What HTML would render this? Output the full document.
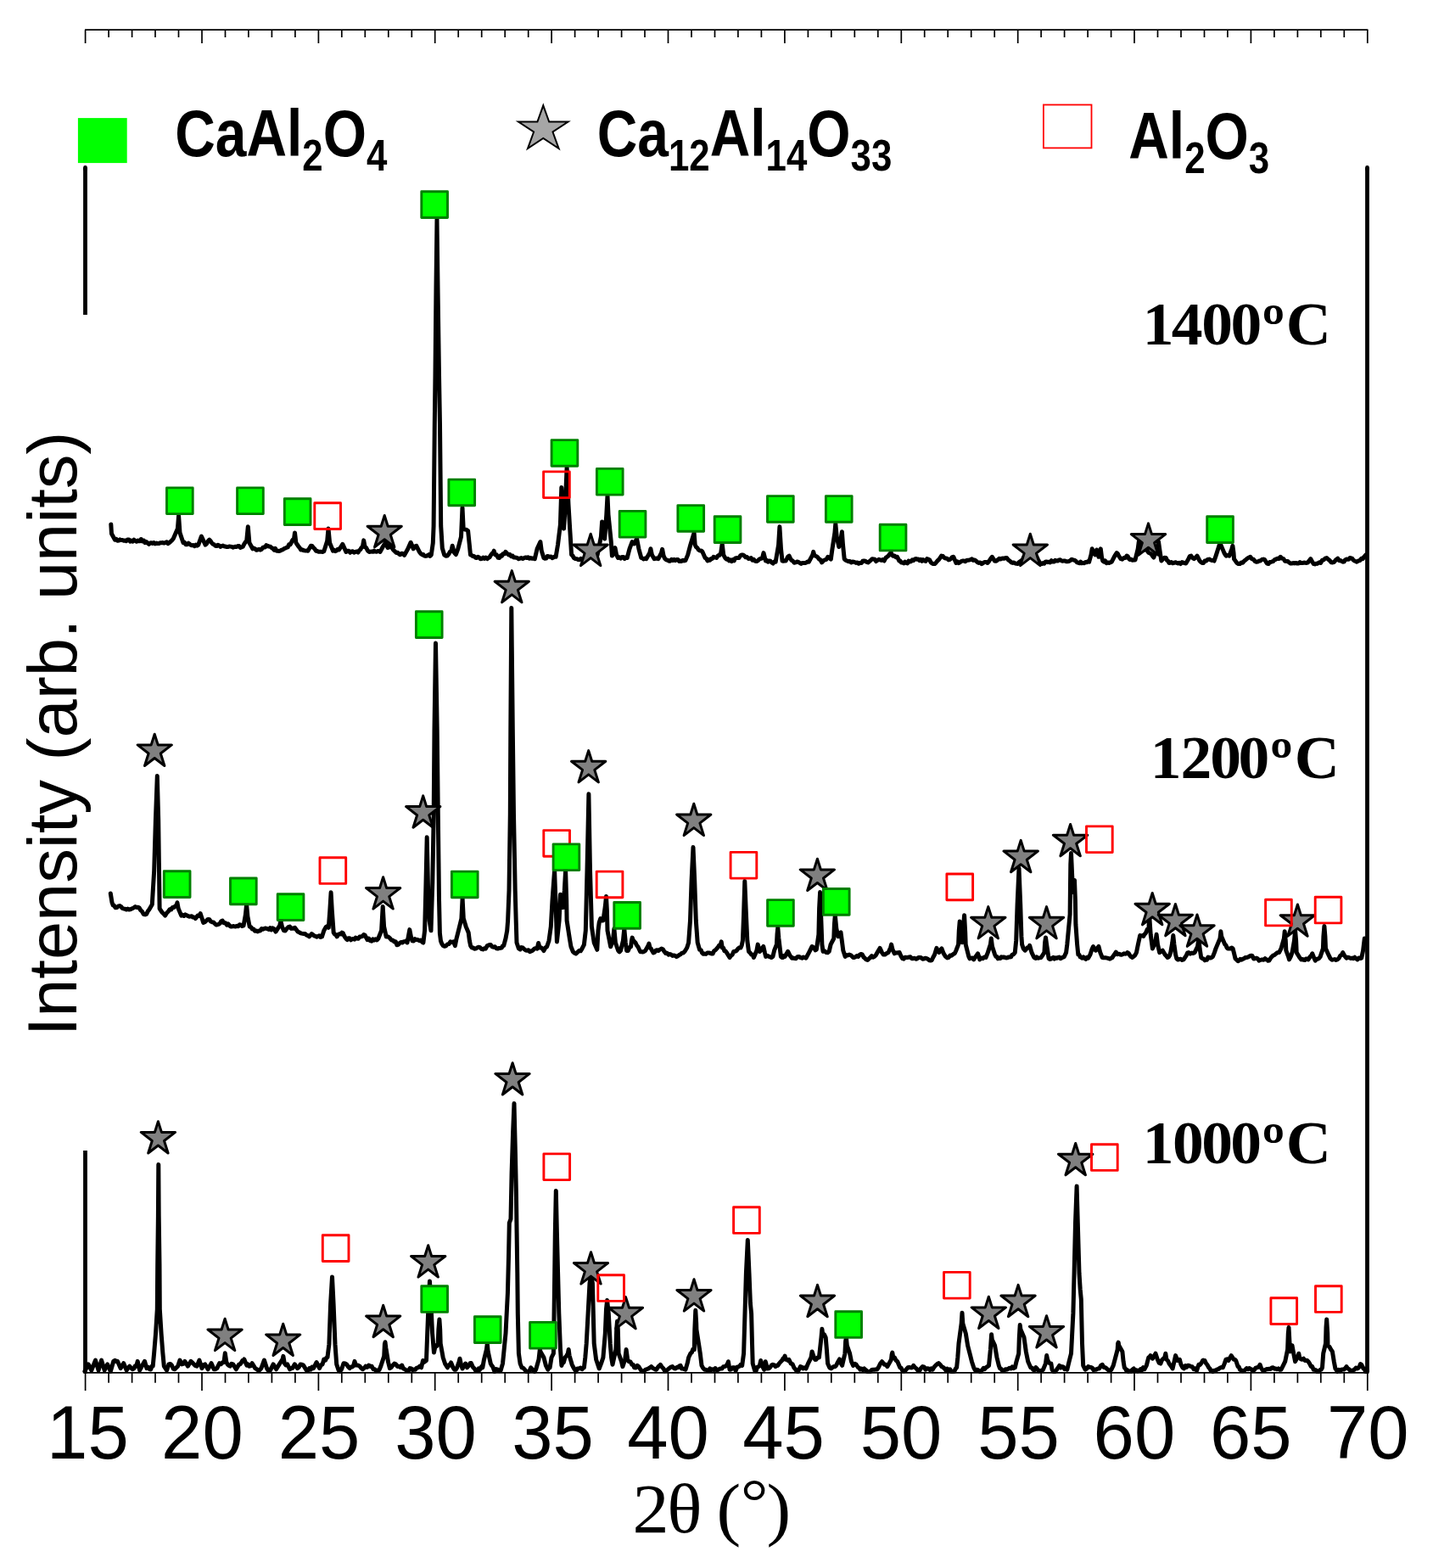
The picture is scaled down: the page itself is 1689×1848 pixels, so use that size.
<!DOCTYPE html>
<html lang="en"><head><meta charset="utf-8"><title>XRD patterns</title>
<style>
html,body{margin:0;padding:0;background:#fff}
svg{display:block}
text{fill:#000}
.sans{font-family:"Liberation Sans",Arial,Helvetica,sans-serif}
.serif{font-family:"Liberation Serif","Times New Roman",serif}
</style></head><body>
<svg width="1689" height="1848" viewBox="0 0 1689 1848">
<rect width="1689" height="1848" fill="#fff"/>
<g stroke="#000" stroke-width="1.7" fill="none">
<line x1="100.0" y1="35.2" x2="1612.4" y2="35.2"/>
<line x1="100.0" y1="1617.8" x2="1612.4" y2="1617.8"/>
<path d="M100.6,35.2v15.7M100.6,1617.8v21.1M128.1,35.2v8.8M128.1,1617.8v12.0M155.6,35.2v8.8M155.6,1617.8v12.0M183.0,35.2v8.8M183.0,1617.8v12.0M210.5,35.2v8.8M210.5,1617.8v12.0M238.0,35.2v15.7M238.0,1617.8v21.1M265.5,35.2v8.8M265.5,1617.8v12.0M292.9,35.2v8.8M292.9,1617.8v12.0M320.4,35.2v8.8M320.4,1617.8v12.0M347.9,35.2v8.8M347.9,1617.8v12.0M375.4,35.2v15.7M375.4,1617.8v21.1M402.8,35.2v8.8M402.8,1617.8v12.0M430.3,35.2v8.8M430.3,1617.8v12.0M457.8,35.2v8.8M457.8,1617.8v12.0M485.3,35.2v8.8M485.3,1617.8v12.0M512.7,35.2v15.7M512.7,1617.8v21.1M540.2,35.2v8.8M540.2,1617.8v12.0M567.7,35.2v8.8M567.7,1617.8v12.0M595.2,35.2v8.8M595.2,1617.8v12.0M622.7,35.2v8.8M622.7,1617.8v12.0M650.1,35.2v15.7M650.1,1617.8v21.1M677.6,35.2v8.8M677.6,1617.8v12.0M705.1,35.2v8.8M705.1,1617.8v12.0M732.6,35.2v8.8M732.6,1617.8v12.0M760.0,35.2v8.8M760.0,1617.8v12.0M787.5,35.2v15.7M787.5,1617.8v21.1M815.0,35.2v8.8M815.0,1617.8v12.0M842.5,35.2v8.8M842.5,1617.8v12.0M869.9,35.2v8.8M869.9,1617.8v12.0M897.4,35.2v8.8M897.4,1617.8v12.0M924.9,35.2v15.7M924.9,1617.8v21.1M952.4,35.2v8.8M952.4,1617.8v12.0M979.8,35.2v8.8M979.8,1617.8v12.0M1007.3,35.2v8.8M1007.3,1617.8v12.0M1034.8,35.2v8.8M1034.8,1617.8v12.0M1062.3,35.2v15.7M1062.3,1617.8v21.1M1089.7,35.2v8.8M1089.7,1617.8v12.0M1117.2,35.2v8.8M1117.2,1617.8v12.0M1144.7,35.2v8.8M1144.7,1617.8v12.0M1172.2,35.2v8.8M1172.2,1617.8v12.0M1199.7,35.2v15.7M1199.7,1617.8v21.1M1227.1,35.2v8.8M1227.1,1617.8v12.0M1254.6,35.2v8.8M1254.6,1617.8v12.0M1282.1,35.2v8.8M1282.1,1617.8v12.0M1309.6,35.2v8.8M1309.6,1617.8v12.0M1337.0,35.2v15.7M1337.0,1617.8v21.1M1364.5,35.2v8.8M1364.5,1617.8v12.0M1392.0,35.2v8.8M1392.0,1617.8v12.0M1419.5,35.2v8.8M1419.5,1617.8v12.0M1446.9,35.2v8.8M1446.9,1617.8v12.0M1474.4,35.2v15.7M1474.4,1617.8v21.1M1501.9,35.2v8.8M1501.9,1617.8v12.0M1529.4,35.2v8.8M1529.4,1617.8v12.0M1556.8,35.2v8.8M1556.8,1617.8v12.0M1584.3,35.2v8.8M1584.3,1617.8v12.0M1611.8,35.2v15.7M1611.8,1617.8v21.1"/>
</g>
<g stroke="#000" stroke-width="4.8" fill="none">
<path d="M100.5,197.5V370.9M100.5,1356.1V1618.5M1611.5,197.5V1617" />
<path d="M100.5,197.5v2M1611.5,197.5v2M1611.5,1615v2" stroke-linecap="round"/>
</g>
<g stroke="#000" stroke-width="5" fill="none" stroke-linejoin="round" stroke-linecap="round">
<path d="M130.8,617.9 L131.5,629.1 L135.5,636.2 L137.0,635.3 L138.5,637.3 L140.0,637.1 L141.4,635.9 L142.9,636.6 L144.4,636.6 L145.9,637.2 L147.4,636.9 L148.9,637.7 L150.4,636.0 L151.9,635.9 L153.4,638.1 L154.9,637.1 L156.4,638.1 L157.9,636.2 L159.4,637.4 L160.9,638.2 L162.4,637.0 L163.9,637.8 L165.1,637.8 L166.3,635.5 L167.9,637.9 L169.5,637.1 L171.0,639.7 L172.5,638.6 L174.0,640.1 L175.5,641.3 L177.0,640.0 L178.4,639.7 L179.9,640.4 L181.4,639.5 L182.9,640.9 L184.4,640.1 L185.9,640.5 L187.4,640.6 L188.9,639.8 L190.4,639.7 L191.9,639.5 L193.4,640.1 L194.9,639.5 L196.5,638.7 L198.0,640.7 L199.5,639.7 L201.0,638.3 L202.6,636.9 L204.2,635.0 L209.4,623.1 L210.6,607.8 L212.0,627.9 L216.0,639.7 L217.5,639.3 L219.0,641.7 L220.5,641.7 L222.0,640.2 L223.4,641.1 L224.9,642.4 L226.4,642.8 L227.9,642.6 L229.4,643.6 L230.8,642.1 L232.3,643.1 L233.8,642.1 L237.4,632.1 L242.1,642.1 L243.7,640.6 L245.3,637.6 L246.8,636.2 L248.3,637.8 L249.7,640.0 L251.1,641.3 L252.5,641.9 L253.9,643.3 L255.4,643.6 L256.9,642.2 L258.4,642.9 L259.9,644.4 L261.3,643.5 L262.8,643.0 L264.3,644.0 L265.8,644.0 L267.2,644.6 L268.7,644.6 L270.2,643.9 L271.6,644.1 L273.1,644.4 L274.5,645.2 L276.0,644.6 L277.4,644.3 L278.9,644.6 L280.4,643.5 L281.8,643.6 L283.3,645.4 L284.7,644.9 L286.2,644.3 L287.7,641.4 L289.2,639.0 L290.7,637.4 L292.3,620.8 L293.9,639.7 L297.8,646.8 L299.3,646.0 L300.8,647.0 L302.3,648.3 L303.8,647.8 L305.4,647.3 L306.9,648.2 L308.4,647.3 L309.8,645.4 L311.1,645.0 L312.5,644.9 L313.9,642.6 L315.5,643.5 L317.1,644.0 L318.7,644.3 L320.2,645.6 L321.7,646.5 L323.1,648.3 L324.5,646.5 L325.9,649.2 L327.4,649.2 L328.8,649.5 L330.3,649.1 L331.8,648.2 L333.3,647.9 L334.8,646.6 L336.2,646.2 L337.7,645.3 L339.2,644.9 L340.6,641.8 L342.1,641.9 L343.5,639.2 L345.0,636.2 L346.5,635.0 L347.5,627.9 L348.9,639.7 L350.3,641.8 L351.7,643.8 L353.2,645.6 L354.6,648.0 L356.0,647.8 L357.4,648.5 L358.7,648.9 L360.1,649.1 L361.5,648.9 L362.9,649.2 L366.4,643.3 L367.9,643.5 L369.4,645.5 L370.9,646.9 L372.4,649.2 L373.9,649.5 L375.5,650.3 L377.1,650.2 L378.7,650.3 L380.2,650.4 L381.8,649.7 L385.7,637.4 L387.0,623.1 L388.6,639.7 L392.5,649.2 L393.9,648.3 L395.3,649.6 L396.7,648.9 L398.2,647.2 L399.6,648.0 L403.8,641.4 L407.9,650.4 L409.5,649.2 L411.0,649.3 L412.6,651.3 L414.2,650.0 L415.8,649.8 L417.3,651.2 L418.9,650.5 L420.5,649.9 L422.1,651.1 L423.4,648.6 L424.7,647.9 L426.0,645.3 L427.4,644.5 L428.7,636.9 L430.1,644.5 L431.8,645.8 L433.4,649.0 L435.1,650.4 L436.6,650.3 L438.0,649.9 L439.5,650.3 L440.9,649.1 L442.3,650.1 L443.8,650.2 L445.2,649.6 L446.7,649.4 L448.1,650.4 L451.2,644.5 L454.1,639.7 L457.1,645.6 L458.6,644.9 L460.0,642.1 L463.5,648.0 L465.3,649.8 L467.1,651.6 L468.7,651.3 L470.2,652.8 L471.8,653.8 L473.4,652.2 L475.0,652.7 L476.6,654.4 L480.8,646.8 L484.1,639.3 L487.2,646.8 L489.0,644.1 L490.8,643.3 L494.3,650.4 L496.1,652.7 L497.9,653.9 L498.9,653.6 L500.0,655.1 L501.4,655.4 L502.8,655.2 L504.1,654.7 L505.5,653.6 L506.9,655.4 L508.3,654.0 L510.3,640.0 L511.1,620.0 L512.3,500.0 L513.0,442.0 L514.0,338.0 L515.0,258.0 L516.0,338.0 L517.5,442.0 L518.5,500.0 L519.7,620.0 L521.3,646.0 L523.7,654.0 L525.5,655.3 L527.2,655.1 L528.8,653.2 L530.3,650.5 L531.9,649.2 L533.2,643.3 L535.5,651.6 L537.4,653.5 L539.8,646.8 L543.5,632.6 L545.0,598.3 L546.2,623.1 L548.0,624.1 L549.7,624.3 L551.6,625.5 L553.3,642.1 L554.5,653.9 L555.9,654.4 L557.3,655.6 L558.7,655.6 L560.2,657.1 L561.6,657.5 L563.2,656.3 L564.7,657.0 L566.3,658.7 L567.9,658.5 L569.5,657.0 L571.0,658.4 L572.6,657.0 L574.2,658.6 L575.8,657.5 L577.1,656.6 L578.5,654.3 L579.9,652.4 L581.2,651.6 L582.2,649.2 L583.6,653.9 L585.3,653.8 L587.1,657.3 L588.8,657.5 L590.2,654.7 L591.5,655.2 L592.8,652.8 L594.4,652.8 L595.9,650.4 L597.7,652.3 L599.5,653.9 L601.0,653.5 L602.6,655.7 L604.2,655.1 L605.6,657.1 L607.0,657.1 L608.5,657.3 L609.9,657.6 L611.3,658.7 L612.9,658.1 L614.5,657.5 L616.0,658.5 L617.6,657.7 L619.2,656.9 L620.8,657.5 L622.4,656.7 L623.9,658.3 L625.5,657.6 L627.1,658.3 L628.7,658.0 L630.3,658.7 L633.1,646.8 L636.9,638.5 L638.3,649.2 L640.9,657.5 L642.3,658.2 L643.8,658.1 L645.2,655.5 L646.6,655.8 L648.0,656.3 L649.4,655.9 L650.9,657.6 L652.3,657.0 L653.7,655.9 L655.1,656.3 L657.5,642.1 L660.4,618.4 L661.8,574.6 L663.4,613.7 L664.6,623.1 L666.3,594.7 L668.1,550.9 L670.0,594.7 L671.7,623.1 L673.6,653.9 L675.0,655.0 L676.4,657.5 L678.2,658.5 L680.0,658.7 L681.5,659.6 L683.0,659.8 L684.6,658.3 L686.1,659.7 L687.6,659.2 L689.1,658.6 L690.6,658.7 L694.7,651.6 L696.1,641.6 L697.5,651.6 L700.8,658.7 L702.5,657.6 L704.1,653.9 L708.4,632.6 L709.6,614.9 L711.1,627.9 L712.7,635.0 L714.8,606.6 L716.0,584.1 L717.0,606.6 L720.2,637.4 L721.4,655.1 L723.5,651.6 L725.0,645.6 L726.6,653.9 L728.5,657.5 L730.1,656.8 L731.6,658.1 L733.1,656.4 L734.6,656.6 L736.1,658.6 L737.7,656.7 L739.2,657.5 L742.0,646.8 L745.1,638.5 L746.3,640.4 L747.5,640.9 L750.6,635.0 L752.9,646.8 L755.8,657.5 L757.3,658.0 L758.7,659.0 L760.2,658.0 L761.7,658.7 L765.8,651.6 L766.9,646.8 L768.4,653.9 L771.2,658.7 L772.7,658.3 L774.3,658.1 L775.9,658.7 L779.5,651.6 L780.6,647.3 L782.1,655.1 L783.7,658.4 L785.4,659.9 L786.9,660.2 L788.4,661.2 L789.9,661.2 L791.5,659.3 L793.0,660.5 L794.5,659.4 L796.0,660.6 L797.5,659.4 L799.0,659.5 L800.5,661.5 L802.0,661.3 L803.4,661.4 L804.9,660.2 L806.4,660.9 L807.9,660.6 L810.7,653.9 L813.8,642.1 L818.1,627.9 L819.2,642.1 L820.6,644.8 L821.9,645.7 L823.3,648.0 L824.8,649.0 L826.4,648.9 L828.0,650.4 L831.1,657.5 L832.5,658.2 L833.9,661.0 L835.3,659.5 L836.8,660.2 L838.2,658.4 L839.6,658.4 L841.0,656.3 L842.8,656.8 L844.6,657.5 L846.3,654.9 L848.0,654.3 L849.7,651.6 L851.2,640.9 L852.7,653.9 L854.6,657.4 L856.4,659.1 L857.9,658.5 L859.4,660.8 L860.9,659.9 L862.3,661.5 L863.8,659.7 L865.2,660.9 L866.6,657.9 L868.0,657.6 L869.4,657.5 L871.0,657.6 L872.6,654.9 L874.2,653.9 L875.8,653.9 L877.3,655.0 L878.9,656.8 L880.5,656.6 L882.1,658.4 L883.7,658.2 L885.2,657.6 L886.8,660.2 L888.4,659.3 L890.0,661.3 L891.6,661.6 L893.1,661.0 L894.5,659.6 L895.8,658.6 L897.2,658.3 L898.5,657.5 L900.0,651.6 L902.4,661.0 L903.8,660.4 L905.2,662.2 L906.6,661.0 L908.1,661.3 L909.5,662.9 L911.1,664.0 L912.6,661.9 L914.2,662.2 L917.6,642.1 L918.9,620.8 L920.5,646.8 L922.0,661.0 L923.4,661.3 L924.7,660.9 L926.1,661.0 L927.4,658.6 L928.7,656.0 L930.1,655.1 L931.5,658.2 L932.9,660.3 L934.3,661.0 L936.1,663.2 L937.9,662.9 L939.5,662.0 L941.0,662.4 L942.6,663.5 L944.2,664.5 L945.8,663.4 L947.4,663.4 L948.8,663.6 L950.3,663.2 L951.8,661.9 L953.3,662.2 L957.8,653.9 L958.7,650.4 L959.7,653.9 L961.0,655.2 L962.4,655.8 L963.8,656.8 L965.1,658.7 L966.9,659.7 L968.7,662.9 L970.5,660.8 L972.2,659.9 L974.0,659.3 L975.8,656.3 L977.6,657.6 L979.3,659.1 L981.0,646.8 L983.9,627.9 L984.8,617.2 L986.2,632.6 L988.8,644.5 L991.1,635.0 L992.4,626.7 L993.5,642.1 L995.2,658.7 L996.7,660.3 L998.3,661.0 L1000.1,661.7 L1001.8,661.5 L1003.3,663.0 L1004.7,662.0 L1006.1,662.2 L1007.5,662.6 L1008.9,663.4 L1010.5,662.9 L1012.1,664.3 L1013.7,663.4 L1015.3,663.6 L1016.8,661.3 L1018.4,661.0 L1020.0,661.2 L1021.6,662.4 L1023.1,662.9 L1024.7,661.7 L1026.3,660.3 L1027.9,658.7 L1029.5,659.0 L1031.0,659.3 L1032.6,661.5 L1034.2,660.3 L1035.8,659.3 L1037.4,659.9 L1038.9,660.4 L1040.5,659.5 L1042.1,661.0 L1043.9,657.6 L1045.6,656.3 L1047.2,655.1 L1048.8,652.6 L1050.4,651.6 L1051.2,653.9 L1052.8,655.3 L1054.3,655.1 L1055.9,656.7 L1057.5,656.3 L1059.9,661.0 L1061.0,661.1 L1062.2,662.9 L1063.7,663.1 L1065.2,663.9 L1066.7,662.2 L1068.1,663.4 L1069.6,663.9 L1071.0,661.1 L1072.4,662.0 L1073.8,661.8 L1075.3,659.9 L1076.7,660.6 L1078.1,659.1 L1079.5,658.4 L1080.9,659.3 L1082.4,659.1 L1083.8,660.6 L1085.2,659.4 L1086.6,661.3 L1088.0,659.7 L1089.5,661.0 L1091.0,661.5 L1092.6,658.6 L1094.2,659.1 L1095.7,660.0 L1097.2,662.9 L1098.6,664.0 L1100.1,664.6 L1101.7,664.5 L1103.3,663.1 L1104.9,661.0 L1106.4,659.7 L1108.0,657.6 L1109.6,655.1 L1111.4,655.5 L1113.1,657.5 L1114.7,658.1 L1116.3,658.2 L1117.9,659.9 L1119.4,659.5 L1120.8,658.5 L1122.3,656.6 L1123.8,656.3 L1126.9,663.4 L1128.4,661.8 L1129.9,663.7 L1131.4,662.8 L1132.9,661.6 L1134.5,661.0 L1136.0,661.0 L1137.6,661.7 L1139.2,660.5 L1140.8,660.2 L1142.4,660.0 L1143.9,659.6 L1145.5,658.9 L1147.1,660.4 L1148.7,659.9 L1150.2,660.8 L1151.8,662.4 L1153.4,663.4 L1155.2,662.9 L1157.0,664.6 L1158.3,663.8 L1159.7,662.9 L1161.1,662.4 L1162.5,662.4 L1163.9,663.5 L1165.2,662.2 L1166.6,660.0 L1167.9,658.0 L1169.3,656.3 L1172.4,661.0 L1173.5,661.3 L1174.7,661.0 L1176.2,659.6 L1177.7,658.3 L1179.2,659.0 L1180.6,658.2 L1182.1,658.0 L1183.6,658.2 L1185.1,657.5 L1186.6,657.5 L1188.3,659.8 L1190.1,661.0 L1191.9,662.8 L1193.7,663.4 L1195.1,663.0 L1196.6,664.0 L1198.1,664.2 L1199.6,664.6 L1201.1,662.5 L1202.5,661.6 L1204.0,660.7 L1205.5,659.1 L1209.1,651.6 L1214.5,642.1 L1219.7,651.6 L1223.3,659.1 L1224.8,662.0 L1226.4,663.9 L1228.0,664.6 L1229.4,663.6 L1230.8,664.2 L1232.1,662.2 L1233.5,661.9 L1234.9,662.7 L1236.3,662.2 L1237.8,662.9 L1239.3,660.7 L1240.7,662.0 L1242.2,662.0 L1243.7,660.3 L1245.2,661.0 L1246.7,661.1 L1248.1,659.9 L1249.6,659.8 L1251.0,660.9 L1252.4,661.2 L1253.8,661.1 L1255.2,661.0 L1256.8,661.8 L1258.4,661.7 L1260.0,661.6 L1261.6,660.4 L1263.1,659.2 L1264.7,659.9 L1266.3,660.2 L1267.9,661.2 L1269.4,662.9 L1270.9,663.2 L1272.3,663.8 L1273.7,662.1 L1275.1,663.8 L1276.6,663.4 L1278.0,663.7 L1279.4,662.5 L1280.8,662.7 L1282.2,661.6 L1283.7,662.2 L1286.0,653.9 L1287.2,646.8 L1289.0,651.6 L1290.9,653.9 L1292.6,648.0 L1294.9,656.3 L1297.3,646.8 L1298.5,656.3 L1299.7,661.0 L1301.1,662.1 L1302.6,660.8 L1304.1,663.7 L1305.6,662.9 L1307.2,663.5 L1308.7,662.8 L1310.3,662.2 L1313.9,655.1 L1316.2,651.6 L1317.4,652.7 L1318.6,655.1 L1321.0,658.7 L1322.7,659.2 L1324.5,657.5 L1326.3,657.5 L1328.1,655.1 L1329.3,655.7 L1330.4,658.2 L1331.6,659.4 L1332.8,659.1 L1334.5,660.3 L1336.3,660.0 L1338.0,659.9 L1341.2,646.8 L1342.3,638.3 L1343.2,643.3 L1344.7,644.7 L1346.1,645.0 L1347.6,647.1 L1349.1,648.1 L1350.5,647.5 L1352.0,648.7 L1353.6,651.2 L1355.1,651.9 L1356.7,652.8 L1358.2,654.9 L1359.8,657.0 L1364.5,644.5 L1365.5,638.3 L1366.5,645.6 L1368.8,661.0 L1370.7,659.1 L1372.5,657.3 L1374.3,657.5 L1375.4,660.3 L1376.6,661.0 L1377.8,663.4 L1379.0,663.4 L1380.6,662.5 L1382.2,663.8 L1383.7,663.4 L1385.3,662.7 L1386.9,663.3 L1388.5,663.9 L1390.0,663.2 L1391.6,664.5 L1393.2,662.6 L1394.8,663.1 L1396.4,663.7 L1397.9,663.9 L1400.8,658.7 L1402.3,655.7 L1403.9,655.1 L1405.5,657.5 L1407.4,658.7 L1409.2,657.2 L1411.0,655.1 L1414.0,661.0 L1415.5,662.5 L1416.9,663.4 L1418.5,663.5 L1420.0,661.1 L1421.6,661.0 L1423.4,659.5 L1425.2,659.1 L1427.0,660.0 L1428.7,660.6 L1429.9,660.2 L1431.1,661.0 L1433.5,653.9 L1437.6,640.9 L1438.2,639.7 L1438.9,642.1 L1442.9,651.6 L1444.1,653.6 L1445.3,655.1 L1447.1,654.5 L1448.9,655.1 L1451.9,646.8 L1452.9,643.3 L1454.0,651.6 L1454.5,658.7 L1456.2,661.1 L1457.9,663.4 L1459.5,664.6 L1461.3,664.6 L1463.1,662.9 L1464.8,663.2 L1466.6,661.0 L1468.4,659.7 L1470.2,658.2 L1471.9,657.2 L1473.7,656.3 L1475.5,658.7 L1477.3,659.1 L1479.1,661.4 L1480.8,662.2 L1482.4,662.0 L1484.0,661.1 L1485.6,661.0 L1487.3,659.5 L1489.1,659.1 L1490.7,659.7 L1492.2,662.2 L1493.6,664.2 L1495.0,664.6 L1496.8,662.4 L1498.6,662.2 L1500.4,661.7 L1502.1,659.9 L1503.9,659.1 L1505.7,658.2 L1507.5,658.5 L1509.2,656.3 L1511.0,658.2 L1512.8,658.7 L1514.6,661.3 L1516.4,661.5 L1517.9,661.4 L1519.5,663.1 L1521.1,663.9 L1522.7,664.1 L1524.2,663.4 L1525.8,663.9 L1527.4,663.5 L1529.0,664.0 L1530.6,663.9 L1532.1,662.5 L1533.7,663.6 L1535.3,663.5 L1536.9,663.1 L1538.5,663.2 L1540.0,663.4 L1541.5,663.0 L1542.9,661.0 L1544.8,658.7 L1546.7,662.2 L1548.3,664.6 L1549.7,664.9 L1551.1,664.2 L1552.5,664.4 L1553.9,663.5 L1555.2,662.8 L1556.6,663.4 L1558.4,660.3 L1560.2,659.9 L1561.9,658.1 L1563.7,657.5 L1565.5,659.3 L1567.3,660.6 L1569.0,662.7 L1570.8,662.9 L1572.6,662.3 L1574.4,659.9 L1575.6,659.1 L1576.7,658.2 L1578.3,660.7 L1579.8,660.6 L1581.2,661.3 L1582.7,662.2 L1584.1,662.1 L1585.5,659.9 L1586.9,659.1 L1588.3,659.2 L1589.6,659.3 L1591.0,657.5 L1592.3,657.8 L1593.6,658.2 L1595.0,659.9 L1596.4,661.0 L1597.8,661.5 L1599.2,662.2 L1601.0,661.0 L1602.8,660.6 L1604.6,658.3 L1606.3,658.7 L1608.1,656.0 L1609.9,653.9"/>
<path d="M130.3,1053.0 L132.0,1063.7 L133.2,1066.8 L134.3,1067.2 L136.1,1069.8 L137.9,1069.6 L139.5,1067.9 L141.0,1067.6 L142.6,1068.4 L144.2,1070.4 L145.8,1071.0 L147.4,1071.2 L148.9,1072.0 L150.5,1071.1 L152.1,1072.0 L153.6,1071.7 L155.1,1071.1 L156.5,1070.4 L158.0,1069.6 L159.5,1068.6 L161.0,1069.4 L162.5,1069.3 L163.9,1069.6 L165.7,1072.6 L167.5,1074.3 L169.3,1077.6 L171.0,1077.9 L172.6,1077.3 L174.2,1074.1 L175.8,1072.0 L179.3,1066.0 L181.7,1025.8 L183.4,966.6 L185.3,914.5 L186.7,966.6 L188.1,1070.8 L191.2,1075.5 L193.0,1077.1 L194.7,1079.1 L196.5,1076.0 L198.3,1074.3 L200.1,1071.8 L201.8,1072.0 L203.4,1069.4 L205.0,1069.5 L206.5,1067.9 L208.1,1067.2 L208.9,1063.7 L210.2,1070.8 L213.7,1079.1 L215.3,1078.3 L216.8,1079.5 L218.4,1077.9 L220.0,1078.7 L221.6,1079.6 L223.1,1080.2 L224.6,1079.9 L226.0,1079.8 L227.4,1081.1 L228.8,1081.1 L230.3,1082.6 L231.7,1080.9 L233.1,1079.1 L234.6,1079.4 L236.2,1076.7 L238.1,1082.6 L239.7,1087.4 L241.5,1086.7 L243.3,1085.0 L245.1,1083.4 L246.8,1083.8 L248.4,1086.0 L250.0,1086.7 L251.6,1086.9 L253.1,1088.5 L254.7,1090.0 L256.3,1089.7 L257.8,1089.3 L259.3,1088.2 L260.7,1085.7 L262.2,1085.0 L264.0,1087.8 L265.8,1087.8 L267.4,1090.2 L268.9,1088.9 L270.5,1090.9 L271.9,1091.9 L273.4,1092.0 L274.8,1091.5 L276.2,1091.9 L277.6,1092.1 L279.2,1091.3 L280.8,1091.8 L282.4,1089.7 L283.9,1090.1 L285.5,1091.5 L287.1,1090.9 L289.4,1077.9 L290.6,1066.0 L291.9,1080.2 L294.2,1092.1 L295.8,1092.6 L297.4,1095.1 L298.9,1094.9 L300.5,1097.2 L302.1,1096.9 L303.7,1098.0 L305.2,1097.0 L306.8,1096.9 L308.4,1094.5 L309.8,1095.2 L311.2,1094.6 L312.7,1093.9 L314.1,1094.3 L315.5,1094.9 L316.9,1095.4 L318.4,1093.7 L319.8,1095.9 L321.2,1093.9 L322.6,1094.5 L325.0,1098.0 L329.7,1090.9 L330.9,1085.0 L332.4,1092.1 L334.5,1096.8 L336.2,1096.9 L338.0,1094.5 L339.8,1092.7 L341.6,1092.1 L343.1,1094.4 L344.6,1094.0 L346.1,1094.2 L347.5,1093.3 L349.3,1095.7 L351.0,1098.0 L352.5,1098.7 L354.0,1099.6 L355.5,1100.1 L357.0,1100.4 L358.4,1100.4 L359.9,1100.7 L361.4,1102.2 L362.9,1102.7 L364.4,1103.8 L365.8,1102.5 L367.3,1100.6 L368.8,1101.6 L370.3,1103.0 L371.8,1103.2 L373.2,1104.2 L374.7,1103.5 L376.3,1102.7 L377.9,1104.5 L379.5,1103.9 L381.8,1096.8 L384.2,1092.6 L385.7,1091.6 L387.3,1093.3 L388.8,1073.1 L390.1,1051.8 L391.3,1073.1 L393.2,1099.2 L394.5,1101.2 L395.9,1101.7 L397.2,1103.9 L399.0,1101.3 L400.8,1100.4 L402.0,1100.9 L403.1,1099.2 L404.3,1099.8 L405.5,1102.7 L406.7,1104.6 L407.9,1106.3 L409.3,1107.5 L410.7,1105.7 L412.1,1105.7 L413.6,1107.8 L415.0,1106.8 L416.4,1106.4 L417.8,1107.2 L419.2,1105.1 L420.7,1106.0 L422.1,1106.3 L423.9,1104.1 L425.6,1103.9 L427.2,1103.3 L428.7,1101.6 L430.1,1102.1 L431.6,1105.1 L433.1,1107.7 L434.7,1106.1 L436.3,1108.7 L437.9,1109.2 L439.5,1106.9 L441.0,1108.2 L442.6,1106.8 L444.2,1107.9 L445.8,1106.3 L449.6,1096.8 L451.2,1068.4 L452.6,1092.1 L455.2,1103.9 L456.8,1103.7 L458.4,1104.6 L460.0,1106.3 L461.6,1108.1 L463.1,1108.3 L464.7,1109.9 L466.3,1109.7 L467.9,1113.7 L469.4,1113.4 L471.0,1111.6 L472.6,1110.4 L474.2,1111.0 L475.8,1109.8 L477.3,1109.8 L478.9,1108.7 L480.0,1111.0 L481.7,1101.6 L482.8,1095.6 L484.4,1103.9 L485.9,1108.7 L487.5,1109.0 L489.1,1106.7 L490.7,1107.5 L492.4,1107.6 L494.2,1108.7 L495.8,1108.0 L497.4,1110.1 L498.9,1111.0 L500.6,1096.8 L501.8,1049.5 L503.2,986.7 L504.6,1049.5 L506.1,1085.0 L508.0,1096.8 L509.8,1040.0 L511.2,960.0 L512.0,860.0 L513.5,758.0 L515.2,860.0 L516.3,960.0 L517.5,1060.0 L518.4,1100.0 L519.5,1109.0 L520.7,1112.2 L522.3,1114.6 L523.8,1115.3 L525.6,1114.8 L527.4,1112.9 L529.1,1112.6 L530.9,1109.9 L532.7,1110.6 L534.5,1109.9 L536.4,1114.6 L538.0,1106.3 L540.4,1096.8 L543.9,1082.6 L545.1,1058.9 L546.3,1082.6 L549.2,1092.1 L552.2,1099.2 L553.4,1108.7 L554.6,1114.6 L556.1,1116.9 L557.7,1117.0 L559.1,1118.2 L560.5,1118.1 L562.3,1117.1 L564.1,1116.2 L565.8,1116.6 L567.6,1118.6 L569.2,1118.9 L570.8,1117.7 L572.4,1118.1 L574.1,1114.8 L575.9,1113.9 L577.1,1113.5 L578.3,1113.4 L580.1,1115.9 L581.8,1116.2 L583.4,1115.8 L585.0,1117.8 L586.6,1118.1 L588.2,1117.4 L589.7,1117.4 L591.3,1117.0 L592.5,1114.7 L593.7,1114.6 L596.0,1106.0 L597.7,1096.8 L598.6,1085.0 L600.0,1049.5 L601.3,960.0 L601.8,860.0 L602.8,716.5 L604.3,860.0 L605.5,960.0 L607.2,1049.5 L608.2,1085.0 L609.0,1111.0 L611.4,1118.0 L613.0,1119.0 L614.6,1116.6 L616.2,1117.0 L618.0,1118.8 L619.7,1120.0 L621.3,1120.3 L622.9,1119.7 L624.5,1121.7 L626.2,1121.0 L628.0,1120.0 L629.7,1118.3 L631.4,1117.4 L633.1,1118.1 L634.6,1111.5 L636.1,1117.0 L637.8,1116.7 L639.4,1118.3 L641.0,1120.5 L642.8,1116.9 L644.6,1115.8 L647.0,1108.7 L649.3,1092.1 L651.0,1061.3 L653.6,1025.8 L655.3,1073.1 L656.4,1109.9 L659.1,1085.0 L660.5,1054.2 L661.9,1063.7 L663.5,1069.6 L665.3,1049.5 L666.6,1025.8 L667.7,1061.3 L668.1,1085.0 L671.4,1106.3 L673.0,1115.8 L675.4,1121.7 L677.2,1123.3 L678.9,1124.1 L680.7,1122.3 L682.5,1120.5 L684.3,1120.8 L686.0,1118.1 L688.4,1113.4 L690.3,1096.8 L692.0,1025.8 L693.9,935.8 L695.5,1025.8 L697.4,1092.1 L700.2,1111.0 L703.8,1119.3 L705.0,1096.8 L706.2,1087.4 L707.8,1082.6 L709.7,1085.0 L710.9,1085.0 L713.3,1068.4 L714.5,1056.6 L715.4,1073.1 L716.0,1096.8 L719.7,1115.8 L722.4,1108.7 L723.9,1094.5 L725.4,1111.0 L728.7,1120.5 L730.1,1121.8 L731.5,1120.5 L734.4,1108.7 L735.8,1094.5 L737.3,1111.0 L738.6,1120.5 L740.3,1120.4 L742.0,1116.5 L743.6,1115.8 L744.4,1108.7 L745.2,1105.1 L746.0,1107.5 L747.4,1109.4 L748.9,1110.9 L750.4,1114.0 L751.9,1115.8 L754.7,1121.7 L756.2,1121.8 L757.7,1122.0 L759.2,1121.4 L760.6,1120.5 L764.0,1114.6 L764.9,1112.2 L766.1,1117.0 L767.4,1118.2 L768.8,1120.7 L770.1,1122.9 L771.6,1122.4 L773.1,1120.2 L774.6,1119.7 L776.0,1120.5 L777.8,1119.1 L779.6,1118.1 L781.4,1118.8 L783.1,1121.7 L784.7,1123.5 L786.3,1123.3 L787.9,1125.2 L789.5,1124.4 L791.0,1125.1 L792.6,1126.4 L794.2,1126.0 L795.8,1126.4 L797.3,1127.6 L798.9,1126.7 L800.5,1125.6 L802.1,1124.8 L803.7,1123.2 L805.2,1123.1 L806.8,1121.7 L809.7,1117.0 L811.6,1111.0 L813.5,1085.0 L815.1,1037.6 L817.0,998.5 L818.7,1037.6 L820.3,1085.0 L822.2,1111.0 L824.6,1119.3 L826.1,1119.6 L827.5,1122.9 L829.0,1124.3 L830.5,1124.1 L832.1,1124.4 L833.7,1123.1 L835.2,1122.9 L836.8,1123.3 L838.4,1123.9 L840.0,1124.1 L841.6,1120.7 L843.1,1119.9 L844.7,1118.1 L846.2,1116.6 L847.7,1114.0 L849.3,1113.4 L850.2,1109.9 L851.3,1117.0 L852.6,1117.2 L853.9,1120.8 L855.2,1121.0 L856.6,1122.9 L860.0,1128.5 L861.6,1126.2 L863.2,1125.1 L864.7,1121.4 L866.5,1121.2 L868.3,1120.2 L870.1,1117.8 L871.8,1116.7 L873.0,1117.0 L874.2,1114.3 L875.4,1108.4 L876.6,1077.6 L877.8,1038.5 L879.4,1077.6 L880.8,1108.4 L882.5,1121.4 L884.0,1122.8 L885.6,1125.0 L887.0,1125.3 L888.4,1128.5 L891.9,1120.2 L893.2,1113.1 L894.8,1119.1 L895.5,1121.4 L896.7,1120.2 L897.9,1117.9 L899.8,1115.5 L901.4,1122.6 L902.6,1127.4 L904.2,1126.3 L905.8,1127.1 L907.4,1127.8 L909.1,1128.6 L910.9,1127.4 L912.6,1120.2 L915.4,1113.1 L916.0,1101.3 L916.8,1093.0 L917.9,1106.0 L920.4,1127.4 L921.6,1128.5 L922.8,1128.5 L923.9,1126.5 L925.1,1127.4 L928.7,1121.4 L931.0,1126.2 L932.2,1127.6 L933.4,1129.2 L935.0,1129.1 L936.6,1129.5 L938.2,1129.7 L939.9,1127.7 L941.7,1127.4 L943.5,1128.6 L945.3,1129.2 L946.8,1128.0 L948.4,1128.6 L950.0,1129.2 L953.5,1122.6 L957.1,1115.5 L958.5,1116.3 L959.9,1117.9 L961.1,1119.8 L962.3,1119.1 L964.9,1101.3 L965.6,1070.5 L966.6,1051.6 L967.7,1080.0 L968.9,1113.1 L970.1,1121.4 L971.9,1120.8 L973.7,1122.6 L975.5,1122.8 L977.2,1121.4 L979.1,1113.1 L982.8,1106.0 L983.4,1089.5 L984.3,1078.8 L985.8,1094.2 L987.9,1103.7 L989.5,1100.1 L991.0,1098.9 L992.6,1110.8 L993.8,1120.2 L996.2,1127.4 L997.8,1125.6 L999.3,1126.0 L1000.9,1125.0 L1002.4,1125.5 L1003.9,1126.7 L1005.4,1128.4 L1006.8,1128.5 L1008.4,1127.8 L1010.0,1126.6 L1011.6,1127.4 L1013.1,1125.4 L1014.7,1124.5 L1016.3,1125.0 L1017.9,1128.0 L1019.5,1129.4 L1021.0,1130.9 L1022.6,1131.5 L1024.2,1129.9 L1025.8,1128.5 L1027.4,1126.7 L1028.9,1128.2 L1030.5,1127.4 L1032.3,1125.8 L1034.1,1122.6 L1037.1,1117.4 L1039.5,1122.6 L1041.2,1125.0 L1042.9,1125.1 L1044.7,1123.8 L1045.9,1123.2 L1047.1,1122.6 L1049.7,1116.7 L1050.6,1113.1 L1052.0,1119.1 L1054.2,1123.8 L1055.6,1123.0 L1057.0,1123.1 L1058.6,1122.7 L1060.1,1122.6 L1062.0,1126.9 L1063.7,1129.7 L1065.2,1130.2 L1066.8,1128.2 L1068.4,1128.5 L1070.0,1128.4 L1071.6,1128.0 L1073.1,1127.8 L1074.7,1129.7 L1076.3,1129.7 L1077.9,1129.2 L1079.5,1130.3 L1081.0,1129.8 L1082.6,1128.5 L1084.2,1128.5 L1085.8,1128.8 L1087.4,1130.2 L1088.9,1130.0 L1090.5,1129.2 L1092.1,1129.7 L1093.7,1130.3 L1095.2,1131.8 L1096.8,1132.1 L1098.2,1131.6 L1099.7,1128.5 L1101.6,1125.0 L1103.9,1117.4 L1105.4,1120.7 L1106.8,1122.6 L1108.2,1119.8 L1109.9,1117.9 L1112.2,1123.8 L1113.4,1125.8 L1114.6,1127.4 L1116.4,1128.9 L1118.1,1128.5 L1119.9,1126.1 L1121.7,1126.2 L1123.5,1124.6 L1125.2,1123.8 L1126.9,1120.2 L1129.6,1113.1 L1130.3,1096.6 L1131.2,1085.9 L1132.6,1101.3 L1134.0,1110.8 L1135.3,1094.2 L1136.6,1078.8 L1137.7,1098.9 L1138.2,1113.1 L1140.6,1122.6 L1141.8,1127.4 L1143.0,1129.8 L1144.2,1129.2 L1146.0,1129.0 L1147.7,1130.9 L1148.9,1128.9 L1150.1,1127.4 L1152.5,1123.8 L1153.7,1127.4 L1154.8,1130.9 L1156.6,1129.0 L1158.4,1129.7 L1160.2,1127.9 L1162.0,1128.5 L1164.3,1122.6 L1167.4,1113.1 L1168.3,1106.0 L1169.5,1115.5 L1172.6,1125.0 L1173.8,1127.4 L1175.0,1127.4 L1176.2,1129.8 L1177.3,1129.2 L1178.8,1129.6 L1180.2,1127.8 L1181.6,1128.2 L1183.0,1127.9 L1184.5,1128.5 L1185.9,1128.9 L1187.3,1128.8 L1188.7,1127.9 L1190.1,1128.0 L1191.6,1127.8 L1193.0,1125.2 L1194.4,1125.0 L1196.3,1122.6 L1197.7,1108.4 L1199.1,1065.8 L1201.0,1023.1 L1202.7,1065.8 L1203.9,1103.7 L1204.6,1113.1 L1206.2,1117.9 L1208.1,1120.2 L1209.6,1118.6 L1211.0,1116.7 L1212.3,1116.9 L1213.6,1114.3 L1216.0,1122.6 L1218.8,1128.5 L1220.4,1129.5 L1221.9,1127.8 L1223.5,1129.2 L1225.3,1128.9 L1227.1,1128.5 L1230.9,1122.6 L1231.6,1110.8 L1232.5,1104.9 L1233.6,1113.1 L1236.1,1129.7 L1237.5,1130.6 L1238.9,1130.2 L1240.0,1129.2 L1241.4,1128.4 L1242.8,1130.1 L1244.3,1128.7 L1245.7,1129.3 L1247.1,1128.5 L1248.5,1128.1 L1249.9,1129.7 L1251.4,1129.0 L1252.8,1128.2 L1254.2,1127.8 L1256.6,1122.6 L1257.8,1113.1 L1261.1,1077.6 L1261.5,1042.1 L1261.8,1018.4 L1262.5,1005.4 L1263.7,1032.6 L1264.9,1051.6 L1265.6,1042.1 L1266.5,1037.4 L1267.4,1061.0 L1267.9,1089.5 L1269.6,1113.1 L1270.8,1125.0 L1272.0,1125.3 L1273.2,1127.8 L1274.3,1128.4 L1275.5,1129.2 L1276.9,1127.8 L1278.4,1129.5 L1279.8,1130.4 L1281.2,1128.3 L1282.6,1129.2 L1285.0,1125.0 L1286.9,1119.1 L1288.5,1115.5 L1290.2,1119.1 L1291.6,1120.2 L1293.3,1117.4 L1294.9,1115.5 L1296.8,1122.6 L1299.2,1128.5 L1300.7,1128.7 L1302.2,1128.8 L1303.6,1128.8 L1305.1,1129.2 L1306.6,1129.7 L1308.1,1130.2 L1309.6,1129.3 L1311.0,1128.5 L1312.2,1126.7 L1313.4,1125.0 L1315.3,1122.1 L1316.5,1124.7 L1317.7,1124.5 L1319.1,1124.2 L1320.5,1125.0 L1321.9,1125.3 L1323.4,1124.7 L1324.8,1123.8 L1326.1,1124.2 L1327.5,1124.1 L1328.8,1122.6 L1330.3,1123.6 L1331.9,1126.2 L1333.3,1127.7 L1334.7,1128.5 L1336.2,1127.1 L1337.6,1126.2 L1339.5,1122.6 L1341.4,1113.1 L1343.7,1102.5 L1345.2,1103.0 L1346.6,1102.5 L1347.8,1103.3 L1348.9,1101.3 L1350.6,1099.3 L1352.3,1095.1 L1354.0,1094.2 L1354.2,1087.1 L1354.9,1082.4 L1356.2,1101.3 L1358.4,1117.9 L1361.7,1110.8 L1363.1,1101.3 L1364.5,1113.1 L1366.7,1122.6 L1368.6,1121.4 L1370.3,1120.2 L1373.1,1125.0 L1374.6,1126.7 L1376.2,1128.5 L1377.4,1128.0 L1378.5,1126.2 L1379.7,1122.6 L1381.8,1110.8 L1382.8,1102.5 L1383.9,1113.1 L1385.6,1125.0 L1386.8,1129.7 L1388.4,1131.0 L1390.0,1130.5 L1391.6,1130.2 L1393.3,1131.5 L1395.1,1130.9 L1398.2,1126.2 L1399.6,1122.9 L1401.0,1122.6 L1402.8,1124.2 L1404.6,1123.1 L1406.4,1123.5 L1408.1,1122.6 L1411.5,1115.5 L1412.9,1106.0 L1414.1,1117.9 L1415.7,1128.5 L1417.3,1129.7 L1418.8,1130.2 L1420.0,1131.8 L1421.2,1130.9 L1422.5,1131.3 L1423.9,1128.1 L1425.2,1128.5 L1426.6,1129.1 L1428.0,1128.5 L1429.5,1127.4 L1431.4,1122.6 L1433.0,1117.9 L1438.0,1106.0 L1438.9,1097.8 L1439.7,1103.7 L1443.7,1113.1 L1444.9,1114.0 L1446.0,1116.7 L1447.2,1118.0 L1448.4,1117.9 L1450.0,1118.1 L1451.6,1117.0 L1453.1,1117.9 L1454.6,1123.8 L1456.0,1129.7 L1457.9,1131.6 L1459.1,1132.8 L1460.2,1132.1 L1461.8,1130.4 L1463.4,1131.2 L1465.0,1130.2 L1466.6,1129.4 L1468.1,1128.4 L1469.7,1128.5 L1471.3,1127.9 L1472.9,1126.9 L1474.5,1126.2 L1476.0,1126.5 L1477.6,1129.9 L1479.2,1129.7 L1480.8,1129.2 L1482.4,1129.8 L1483.9,1132.1 L1485.7,1131.5 L1487.5,1130.9 L1489.3,1131.3 L1491.0,1129.7 L1492.2,1130.8 L1493.4,1130.9 L1494.6,1132.3 L1495.8,1132.1 L1498.1,1128.5 L1499.3,1127.3 L1500.5,1126.2 L1502.3,1125.5 L1504.1,1123.8 L1505.8,1122.7 L1507.6,1122.6 L1510.0,1117.9 L1513.4,1106.0 L1514.2,1097.8 L1515.3,1108.4 L1515.8,1120.2 L1518.5,1127.4 L1519.5,1130.9 L1521.3,1127.4 L1523.0,1122.6 L1525.5,1108.4 L1526.6,1096.6 L1527.6,1108.4 L1528.2,1122.6 L1531.8,1128.5 L1533.7,1130.9 L1535.1,1130.4 L1536.5,1131.4 L1537.9,1131.6 L1539.3,1130.0 L1540.6,1129.9 L1542.0,1130.9 L1544.3,1127.4 L1545.5,1126.3 L1546.7,1123.8 L1548.6,1128.5 L1550.2,1132.1 L1551.7,1130.2 L1553.1,1130.2 L1554.6,1129.5 L1556.2,1127.4 L1559.4,1117.9 L1559.9,1103.7 L1560.9,1091.4 L1561.9,1103.7 L1562.5,1117.9 L1566.3,1126.2 L1568.0,1129.7 L1569.8,1131.2 L1571.6,1130.9 L1573.1,1130.6 L1574.7,1131.4 L1576.3,1130.9 L1578.1,1129.4 L1579.8,1126.2 L1581.3,1125.5 L1582.7,1122.6 L1585.1,1126.9 L1587.0,1129.2 L1588.3,1128.2 L1589.7,1128.4 L1591.1,1129.1 L1592.5,1129.5 L1593.9,1129.0 L1595.2,1129.7 L1596.8,1128.2 L1598.4,1129.7 L1600.0,1130.9 L1601.6,1129.0 L1603.1,1129.4 L1604.7,1129.2 L1606.6,1120.2 L1608.3,1106.0"/>
<path d="M99.9,1616.2 L104.2,1607.9 L107.8,1615.0 L112.5,1603.1 L116.1,1615.0 L119.6,1603.1 L123.2,1615.0 L126.7,1607.9 L130.3,1616.2 L133.8,1604.3 L135.4,1603.3 L137.0,1604.5 L138.5,1604.3 L142.1,1612.6 L145.7,1606.7 L149.2,1615.0 L151.0,1612.1 L152.8,1610.2 L154.5,1612.4 L156.3,1613.8 L157.8,1613.1 L159.3,1609.7 L160.7,1610.2 L162.2,1604.3 L164.6,1615.0 L169.8,1605.5 L170.5,1604.3 L172.9,1612.6 L174.7,1611.3 L176.4,1613.8 L177.7,1613.9 L179.0,1610.3 L180.2,1610.0 L181.7,1593.9 L183.5,1571.9 L185.3,1543.0 L185.7,1490.9 L186.4,1433.1 L186.8,1372.5 L187.2,1433.1 L188.0,1490.9 L188.3,1543.0 L190.1,1571.9 L191.8,1593.9 L193.3,1610.0 L196.6,1615.0 L198.9,1607.9 L200.7,1607.4 L202.5,1609.1 L204.3,1613.4 L206.0,1613.8 L207.8,1611.9 L209.6,1610.2 L212.0,1603.1 L214.3,1607.9 L216.1,1607.4 L217.9,1604.3 L221.4,1610.2 L225.0,1604.3 L226.8,1606.0 L228.5,1607.9 L230.3,1609.6 L232.1,1610.2 L234.9,1603.1 L238.0,1612.6 L239.8,1608.8 L241.6,1607.9 L245.1,1613.8 L249.1,1606.7 L252.2,1613.8 L254.0,1613.7 L255.8,1612.6 L258.6,1606.7 L260.4,1607.8 L262.1,1606.0 L263.9,1605.5 L265.3,1594.8 L266.9,1605.5 L268.3,1608.1 L269.7,1609.3 L271.2,1610.2 L272.9,1607.3 L274.7,1607.9 L278.3,1613.8 L281.8,1607.9 L283.1,1607.7 L284.5,1605.9 L285.8,1603.5 L287.1,1603.1 L287.8,1602.0 L290.8,1609.1 L292.2,1607.8 L293.7,1610.2 L295.4,1609.9 L297.2,1606.7 L300.8,1612.6 L302.6,1613.7 L304.3,1615.0 L306.1,1614.7 L307.9,1612.6 L311.4,1603.1 L314.5,1612.6 L315.9,1614.9 L317.2,1615.0 L318.5,1615.0 L322.1,1607.9 L325.6,1613.8 L329.2,1607.9 L333.1,1602.0 L333.9,1598.4 L335.3,1606.7 L337.0,1609.0 L338.7,1607.9 L341.5,1613.8 L343.0,1612.8 L344.6,1612.6 L347.4,1607.9 L350.5,1612.6 L352.3,1611.4 L354.1,1607.9 L355.8,1608.2 L357.6,1609.1 L361.2,1615.0 L362.9,1615.5 L364.7,1612.6 L366.3,1614.1 L367.9,1611.0 L369.5,1612.6 L373.0,1605.5 L376.6,1612.6 L378.3,1608.8 L380.1,1607.9 L381.8,1602.0 L383.7,1603.1 L384.8,1600.2 L386.0,1599.6 L387.9,1584.2 L389.6,1536.8 L391.5,1504.9 L393.1,1536.8 L395.0,1584.2 L396.7,1607.9 L399.1,1615.0 L400.8,1616.2 L402.6,1613.8 L405.0,1606.7 L406.8,1607.0 L408.5,1607.9 L410.3,1610.7 L412.1,1612.6 L413.5,1611.0 L414.9,1611.1 L416.4,1610.2 L418.0,1604.3 L419.3,1609.1 L420.8,1609.0 L422.4,1609.3 L423.9,1610.2 L425.7,1612.4 L427.5,1613.8 L429.3,1612.4 L431.0,1610.2 L432.8,1611.3 L434.6,1609.1 L436.4,1610.4 L438.1,1610.2 L439.9,1613.7 L441.7,1613.8 L443.5,1615.8 L445.2,1615.0 L447.0,1614.6 L448.8,1610.2 L452.7,1598.4 L453.4,1584.2 L454.0,1581.8 L454.9,1588.9 L457.6,1605.5 L459.4,1612.6 L461.2,1611.5 L463.0,1609.1 L464.8,1607.1 L466.6,1607.9 L468.3,1610.5 L470.1,1610.2 L471.9,1611.5 L473.7,1609.1 L475.4,1613.0 L477.2,1613.8 L478.6,1614.9 L480.0,1615.4 L481.6,1615.4 L483.2,1612.6 L484.7,1613.0 L486.3,1614.7 L487.9,1614.1 L489.5,1614.2 L491.2,1612.1 L493.0,1611.8 L494.8,1610.1 L496.6,1611.8 L498.5,1603.5 L499.7,1605.5 L500.8,1604.7 L502.5,1603.5 L503.7,1571.6 L505.1,1536.0 L506.5,1510.0 L507.9,1536.0 L509.6,1571.6 L511.5,1594.1 L513.2,1585.8 L514.7,1586.5 L516.2,1583.4 L516.9,1566.8 L517.9,1555.0 L518.7,1566.8 L519.2,1583.4 L522.2,1600.0 L524.5,1607.1 L527.4,1611.8 L528.5,1609.0 L529.7,1609.4 L531.6,1605.9 L534.0,1611.8 L535.7,1614.2 L537.2,1614.2 L538.7,1611.8 L541.1,1604.7 L542.0,1601.2 L543.7,1609.4 L545.1,1613.0 L547.0,1609.4 L548.7,1607.1 L550.6,1611.8 L551.8,1610.3 L552.9,1609.4 L554.1,1606.6 L555.3,1606.6 L557.7,1611.8 L559.1,1612.8 L560.5,1615.4 L562.3,1615.3 L564.1,1613.0 L565.3,1614.5 L566.4,1613.0 L567.6,1610.6 L568.8,1611.8 L570.5,1602.3 L573.4,1590.5 L574.3,1583.4 L575.2,1592.9 L578.3,1607.1 L579.5,1609.3 L580.7,1610.6 L583.0,1616.5 L584.8,1613.5 L586.6,1614.2 L588.3,1615.7 L590.1,1615.4 L592.5,1607.1 L593.7,1595.2 L596.0,1571.6 L598.4,1524.2 L599.6,1476.8 L600.3,1441.3 L602.0,1436.6 L603.1,1382.1 L604.6,1334.7 L606.0,1300.4 L607.4,1358.4 L608.4,1405.8 L609.1,1453.1 L609.8,1500.5 L610.3,1547.9 L611.4,1595.2 L613.1,1607.1 L615.0,1611.8 L616.8,1612.3 L618.5,1614.2 L620.3,1616.5 L622.1,1616.5 L623.9,1616.1 L625.6,1611.8 L627.2,1613.6 L628.7,1615.4 L630.1,1616.5 L631.6,1614.2 L635.0,1602.3 L636.3,1590.5 L637.0,1592.9 L641.0,1600.0 L643.4,1609.4 L645.8,1614.2 L647.0,1612.2 L648.1,1611.8 L650.0,1600.0 L652.4,1595.2 L653.4,1524.2 L654.3,1453.1 L655.3,1403.4 L656.4,1453.1 L657.6,1500.5 L658.8,1547.9 L660.5,1590.5 L661.9,1609.4 L663.1,1606.0 L664.3,1605.9 L665.9,1600.0 L667.6,1598.0 L669.3,1595.2 L670.2,1590.5 L671.1,1597.6 L674.2,1608.3 L676.6,1613.0 L678.9,1616.5 L680.7,1612.9 L682.5,1613.0 L684.3,1612.1 L686.0,1613.7 L687.2,1612.4 L688.4,1611.8 L689.8,1600.0 L691.2,1583.4 L693.1,1547.9 L695.0,1512.4 L696.7,1500.5 L698.4,1512.4 L700.2,1583.4 L702.6,1602.3 L706.2,1613.0 L708.5,1607.1 L710.9,1600.0 L713.3,1571.6 L714.5,1543.1 L715.6,1532.5 L717.3,1547.9 L719.2,1583.4 L720.6,1600.0 L722.0,1608.3 L725.9,1590.5 L726.7,1566.8 L727.5,1557.3 L728.3,1566.8 L729.1,1595.2 L732.5,1604.7 L733.9,1610.6 L736.7,1602.3 L738.1,1590.5 L739.4,1600.0 L739.5,1602.3 L741.3,1604.8 L743.0,1604.9 L744.8,1608.3 L746.2,1608.2 L747.6,1611.8 L749.4,1612.1 L751.2,1609.4 L752.9,1610.8 L754.7,1613.7 L756.3,1616.1 L757.9,1616.4 L759.5,1615.4 L761.0,1614.1 L762.6,1613.6 L764.2,1613.0 L766.0,1611.9 L767.7,1610.6 L769.3,1612.4 L770.8,1613.0 L772.2,1614.0 L773.7,1614.2 L776.0,1610.6 L777.2,1609.7 L778.4,1608.3 L780.2,1611.1 L782.0,1613.0 L783.7,1615.9 L785.5,1615.4 L787.3,1613.9 L789.1,1612.3 L790.8,1611.2 L792.6,1610.6 L794.4,1612.7 L796.2,1613.0 L797.7,1611.4 L799.2,1611.8 L800.7,1609.8 L802.1,1609.4 L803.5,1613.1 L804.9,1613.0 L806.5,1613.7 L808.0,1614.2 L810.4,1605.9 L811.6,1600.0 L813.9,1595.2 L815.4,1593.9 L816.8,1590.1 L818.3,1590.5 L818.8,1566.8 L819.8,1544.3 L820.7,1559.7 L820.9,1566.8 L825.3,1595.2 L827.0,1609.4 L828.6,1612.3 L830.5,1614.2 L832.1,1614.2 L833.7,1615.3 L835.2,1615.4 L836.8,1612.9 L838.4,1614.7 L840.0,1613.7 L841.6,1614.6 L843.1,1612.6 L844.7,1614.7 L846.3,1614.6 L847.9,1613.4 L849.4,1613.0 L851.0,1612.9 L852.6,1610.8 L854.2,1610.6 L855.9,1609.7 L857.6,1607.1 L858.4,1604.7 L860.0,1614.2 L861.8,1614.0 L863.6,1611.8 L865.3,1611.7 L867.1,1615.4 L868.9,1611.2 L870.7,1610.6 L871.8,1610.2 L873.0,1608.3 L874.7,1609.4 L876.6,1595.2 L878.0,1547.9 L879.4,1500.5 L881.3,1461.4 L883.0,1500.5 L884.4,1536.0 L885.6,1547.9 L886.5,1583.4 L887.2,1607.1 L889.6,1615.4 L891.1,1615.7 L892.5,1611.4 L894.0,1610.8 L895.4,1609.4 L896.7,1603.5 L898.1,1609.4 L900.7,1614.2 L902.2,1604.7 L904.5,1613.0 L905.9,1612.8 L907.4,1611.8 L909.1,1609.3 L910.9,1608.3 L912.5,1608.9 L914.0,1610.6 L915.4,1609.3 L916.8,1609.4 L918.6,1606.6 L920.4,1604.7 L921.7,1603.5 L923.1,1600.8 L924.4,1600.0 L925.1,1598.1 L926.0,1602.3 L927.3,1601.9 L928.6,1603.4 L929.9,1602.3 L932.2,1607.1 L934.0,1607.6 L935.8,1611.8 L937.4,1613.7 L938.9,1615.9 L940.5,1616.5 L943.4,1610.6 L944.9,1611.1 L946.4,1613.0 L948.2,1611.9 L950.0,1613.0 L952.4,1607.1 L956.0,1600.0 L957.1,1592.9 L959.5,1600.0 L960.7,1602.4 L961.8,1602.3 L963.6,1600.1 L965.4,1600.0 L968.0,1576.3 L968.9,1566.3 L969.6,1571.6 L971.4,1572.7 L973.2,1576.3 L974.4,1590.5 L975.6,1607.1 L977.7,1611.8 L979.6,1613.0 L981.1,1611.6 L982.7,1610.6 L984.1,1610.8 L985.5,1609.4 L987.9,1604.7 L989.5,1601.9 L991.4,1607.1 L992.6,1609.4 L995.9,1595.2 L996.6,1581.0 L997.4,1576.3 L998.3,1585.8 L1001.6,1595.2 L1003.5,1604.7 L1005.6,1609.4 L1007.4,1607.3 L1009.2,1608.3 L1011.6,1611.8 L1012.8,1612.3 L1013.9,1614.2 L1015.5,1613.1 L1017.1,1614.7 L1018.7,1613.0 L1020.4,1614.5 L1022.2,1616.5 L1024.0,1616.5 L1025.8,1616.5 L1027.4,1614.4 L1028.9,1614.3 L1030.5,1614.2 L1032.1,1614.0 L1033.7,1614.1 L1035.3,1611.8 L1037.6,1607.1 L1039.5,1604.7 L1040.9,1606.3 L1042.4,1608.3 L1044.1,1608.3 L1045.9,1610.6 L1050.5,1602.3 L1051.1,1596.4 L1051.8,1594.1 L1052.8,1600.0 L1054.4,1600.0 L1056.1,1603.3 L1057.8,1604.7 L1060.8,1611.8 L1062.2,1612.4 L1063.7,1615.4 L1065.2,1616.0 L1066.8,1615.6 L1068.4,1613.7 L1070.0,1611.8 L1071.6,1611.6 L1073.1,1611.8 L1074.9,1611.9 L1076.7,1609.4 L1078.5,1611.8 L1080.2,1613.0 L1082.0,1615.4 L1083.8,1615.4 L1085.6,1612.4 L1087.4,1610.6 L1089.1,1610.9 L1090.9,1614.2 L1092.7,1612.8 L1094.5,1613.0 L1096.0,1614.6 L1097.6,1612.9 L1099.2,1614.2 L1101.0,1611.2 L1102.7,1609.4 L1104.5,1607.7 L1106.3,1606.6 L1108.1,1608.3 L1109.9,1610.6 L1111.6,1611.5 L1113.4,1613.0 L1115.0,1615.5 L1116.6,1613.2 L1118.1,1615.4 L1119.7,1613.8 L1121.3,1616.5 L1122.9,1616.5 L1124.7,1616.3 L1126.4,1613.0 L1127.6,1611.8 L1128.8,1600.0 L1130.0,1583.4 L1133.2,1559.7 L1134.0,1547.2 L1134.8,1559.7 L1138.3,1571.6 L1140.6,1585.8 L1143.0,1595.2 L1145.4,1604.7 L1147.7,1611.8 L1149.3,1614.9 L1150.8,1614.2 L1152.2,1614.5 L1153.7,1615.4 L1155.1,1616.5 L1156.5,1616.3 L1157.9,1614.2 L1159.3,1612.3 L1160.6,1613.6 L1162.0,1611.8 L1163.8,1610.6 L1165.5,1609.4 L1167.4,1590.5 L1168.6,1572.7 L1169.3,1578.7 L1172.6,1585.8 L1175.0,1600.0 L1177.3,1609.4 L1178.5,1612.6 L1179.7,1613.0 L1180.9,1614.8 L1182.1,1615.4 L1183.7,1615.1 L1185.2,1613.7 L1186.8,1614.2 L1188.4,1613.2 L1190.0,1612.3 L1191.6,1613.0 L1193.1,1610.9 L1194.7,1612.6 L1196.3,1611.8 L1198.0,1604.7 L1200.7,1595.2 L1201.3,1576.3 L1202.2,1561.6 L1202.9,1566.8 L1207.0,1576.3 L1209.3,1592.9 L1211.7,1604.7 L1214.8,1611.8 L1216.2,1612.1 L1217.6,1614.2 L1219.2,1615.0 L1220.8,1611.6 L1222.3,1613.0 L1224.1,1615.8 L1225.9,1615.4 L1227.7,1615.6 L1229.4,1614.2 L1232.4,1607.1 L1233.7,1597.6 L1234.6,1602.3 L1236.0,1605.6 L1237.5,1607.1 L1238.9,1607.1 L1240.0,1614.2 L1241.8,1616.5 L1243.6,1616.5 L1245.3,1614.5 L1247.1,1611.8 L1248.7,1609.5 L1250.3,1612.0 L1251.8,1610.6 L1253.3,1610.9 L1254.7,1613.7 L1256.2,1613.1 L1257.8,1614.2 L1260.1,1604.7 L1262.5,1595.2 L1263.7,1571.6 L1264.9,1547.9 L1266.1,1500.5 L1267.5,1441.3 L1269.1,1398.0 L1270.3,1441.3 L1271.3,1476.8 L1272.0,1500.5 L1273.2,1519.5 L1274.3,1531.3 L1275.5,1583.4 L1276.7,1609.4 L1279.1,1614.2 L1280.9,1613.1 L1282.6,1610.6 L1284.2,1611.3 L1285.8,1611.4 L1287.4,1612.3 L1288.9,1614.7 L1290.5,1614.0 L1292.1,1614.2 L1293.9,1613.0 L1295.7,1613.0 L1297.4,1609.6 L1299.2,1608.3 L1301.0,1611.5 L1302.8,1611.8 L1304.5,1613.1 L1306.3,1614.7 L1308.1,1615.6 L1309.9,1614.2 L1312.2,1609.4 L1317.2,1590.5 L1317.6,1583.4 L1318.2,1582.2 L1318.8,1585.8 L1322.9,1592.9 L1324.1,1604.7 L1325.3,1611.8 L1326.4,1613.0 L1327.6,1615.4 L1328.8,1614.8 L1330.0,1616.5 L1331.6,1615.9 L1333.2,1616.2 L1334.7,1614.2 L1336.3,1613.0 L1337.9,1615.7 L1339.5,1614.7 L1341.0,1616.0 L1342.6,1615.3 L1344.2,1613.7 L1345.8,1615.0 L1347.4,1611.7 L1348.9,1613.7 L1351.3,1609.4 L1353.7,1600.0 L1354.9,1599.3 L1356.0,1597.6 L1358.4,1601.2 L1362.0,1595.2 L1364.3,1602.3 L1366.1,1606.2 L1367.9,1607.1 L1369.5,1602.9 L1371.1,1601.4 L1372.7,1600.0 L1373.8,1595.2 L1374.9,1602.3 L1376.5,1603.8 L1378.1,1607.2 L1379.7,1609.4 L1380.9,1610.9 L1382.1,1613.0 L1384.0,1604.7 L1385.6,1597.6 L1388.0,1603.5 L1389.2,1602.8 L1390.4,1602.3 L1392.0,1608.3 L1393.9,1611.8 L1395.5,1612.8 L1397.1,1609.5 L1398.7,1611.3 L1400.3,1609.3 L1401.8,1609.4 L1403.4,1610.6 L1405.2,1610.7 L1407.0,1613.7 L1408.7,1612.8 L1410.5,1615.4 L1412.9,1608.3 L1414.4,1608.6 L1416.0,1606.5 L1417.5,1603.5 L1418.1,1603.1 L1418.6,1603.5 L1420.0,1603.5 L1421.4,1606.7 L1422.8,1608.3 L1424.7,1611.8 L1425.9,1612.9 L1427.1,1615.4 L1428.3,1615.2 L1429.5,1616.5 L1431.0,1615.2 L1432.6,1615.6 L1434.2,1614.2 L1436.0,1613.6 L1437.8,1612.3 L1439.5,1611.5 L1441.3,1611.8 L1443.2,1607.1 L1444.9,1602.3 L1446.4,1601.7 L1447.9,1603.5 L1451.2,1597.6 L1454.3,1602.3 L1455.5,1602.3 L1456.7,1603.5 L1459.1,1610.6 L1460.2,1610.9 L1461.4,1614.2 L1463.0,1614.8 L1464.6,1615.8 L1466.2,1615.4 L1467.7,1614.3 L1469.3,1612.6 L1470.9,1613.7 L1472.4,1612.5 L1473.9,1613.4 L1475.3,1614.5 L1476.8,1614.2 L1478.4,1614.5 L1480.0,1612.1 L1481.6,1611.8 L1483.3,1611.2 L1485.1,1608.3 L1486.8,1613.0 L1488.7,1615.4 L1490.1,1615.4 L1491.6,1614.3 L1493.1,1613.6 L1494.6,1613.7 L1496.1,1613.2 L1497.5,1613.6 L1499.0,1612.0 L1500.5,1611.8 L1502.1,1613.2 L1503.7,1612.9 L1505.2,1613.7 L1506.8,1612.9 L1508.4,1614.2 L1510.0,1614.2 L1512.4,1609.4 L1514.7,1604.7 L1517.6,1590.5 L1518.3,1571.6 L1519.0,1564.5 L1519.9,1581.0 L1520.6,1592.9 L1521.8,1588.1 L1523.0,1585.8 L1524.7,1595.2 L1526.6,1604.7 L1529.7,1598.8 L1530.8,1595.2 L1531.7,1600.0 L1533.3,1601.9 L1534.8,1602.3 L1536.4,1601.2 L1537.9,1603.5 L1539.3,1603.2 L1540.8,1603.5 L1542.2,1605.0 L1543.6,1607.1 L1545.2,1610.4 L1546.7,1610.6 L1548.2,1614.2 L1549.8,1614.2 L1551.2,1614.9 L1552.6,1616.5 L1554.4,1616.5 L1556.2,1614.2 L1557.3,1614.2 L1558.5,1611.8 L1559.7,1595.2 L1562.5,1583.4 L1563.0,1564.5 L1563.7,1555.0 L1564.7,1571.6 L1565.0,1585.8 L1566.9,1587.2 L1568.7,1590.5 L1570.4,1592.9 L1572.3,1604.7 L1573.9,1613.0 L1575.1,1614.6 L1576.3,1616.5 L1577.9,1614.3 L1579.5,1616.2 L1581.0,1614.2 L1582.5,1613.9 L1584.0,1614.0 L1585.5,1612.7 L1587.0,1610.6 L1588.5,1612.8 L1590.0,1613.7 L1591.5,1615.5 L1592.9,1615.4 L1594.6,1615.0 L1596.4,1614.2 L1598.2,1612.0 L1600.0,1613.0 L1601.2,1612.2 L1602.3,1610.6 L1603.5,1607.5 L1604.7,1608.3 L1607.1,1613.0 L1608.3,1613.4 L1609.4,1616.5"/>
</g>
<g>
<polygon points="453.2,607.5 457.2,620.2 473.3,620.2 460.3,630.3 464.9,644.8 453.2,635.8 441.5,644.8 446.1,630.3 433.1,620.2 449.2,620.2" fill="#808080" stroke="#000" stroke-width="3.0" stroke-linejoin="round"/>
<polygon points="696.2,629.3 700.2,642.0 716.3,642.0 703.3,652.1 707.9,666.6 696.2,657.6 684.5,666.6 689.1,652.1 676.0,642.0 692.2,642.0" fill="#808080" stroke="#000" stroke-width="3.0" stroke-linejoin="round"/>
<polygon points="1214.3,629.3 1218.3,642.0 1234.5,642.0 1221.4,652.1 1226.0,666.6 1214.3,657.6 1202.6,666.6 1207.2,652.1 1194.1,642.0 1210.3,642.0" fill="#808080" stroke="#000" stroke-width="3.0" stroke-linejoin="round"/>
<polygon points="1353.5,616.9 1357.5,629.6 1373.7,629.6 1360.6,639.7 1365.2,654.2 1353.5,645.2 1341.8,654.2 1346.4,639.7 1333.3,629.6 1349.5,629.6" fill="#808080" stroke="#000" stroke-width="3.0" stroke-linejoin="round"/>
<polygon points="182.2,865.2 186.2,877.9 202.4,877.9 189.3,888.0 193.9,902.5 182.2,893.5 170.5,902.5 175.1,888.0 162.1,877.9 178.2,877.9" fill="#808080" stroke="#000" stroke-width="3.0" stroke-linejoin="round"/>
<polygon points="451.6,1033.8 455.6,1046.5 471.8,1046.5 458.7,1056.6 463.3,1071.1 451.6,1062.1 439.9,1071.1 444.5,1056.6 431.5,1046.5 447.6,1046.5" fill="#808080" stroke="#000" stroke-width="3.0" stroke-linejoin="round"/>
<polygon points="498.7,937.9 502.7,950.6 518.9,950.6 505.8,960.7 510.4,975.2 498.7,966.2 487.0,975.2 491.6,960.7 478.6,950.6 494.7,950.6" fill="#808080" stroke="#000" stroke-width="3.0" stroke-linejoin="round"/>
<polygon points="603.3,672.6 607.3,685.3 623.4,685.3 610.4,695.4 615.0,709.9 603.3,700.9 591.6,709.9 596.2,695.4 583.1,685.3 599.3,685.3" fill="#808080" stroke="#000" stroke-width="3.0" stroke-linejoin="round"/>
<polygon points="693.7,884.6 697.7,897.3 713.8,897.3 700.8,907.4 705.4,921.9 693.7,912.9 682.0,921.9 686.6,907.4 673.5,897.3 689.7,897.3" fill="#808080" stroke="#000" stroke-width="3.0" stroke-linejoin="round"/>
<polygon points="817.8,947.3 821.8,960.0 837.9,960.0 824.9,970.1 829.5,984.6 817.8,975.6 806.1,984.6 810.7,970.1 797.6,960.0 813.8,960.0" fill="#808080" stroke="#000" stroke-width="3.0" stroke-linejoin="round"/>
<polygon points="963.4,1012.2 967.4,1024.9 983.5,1024.9 970.5,1035.0 975.1,1049.5 963.4,1040.5 951.7,1049.5 956.3,1035.0 943.2,1024.9 959.4,1024.9" fill="#808080" stroke="#000" stroke-width="3.0" stroke-linejoin="round"/>
<polygon points="1164.8,1068.6 1168.8,1081.3 1185.0,1081.3 1171.9,1091.4 1176.5,1105.9 1164.8,1096.9 1153.1,1105.9 1157.7,1091.4 1144.6,1081.3 1160.8,1081.3" fill="#808080" stroke="#000" stroke-width="3.0" stroke-linejoin="round"/>
<polygon points="1203.2,990.4 1207.2,1003.1 1223.4,1003.1 1210.3,1013.2 1214.9,1027.7 1203.2,1018.7 1191.5,1027.7 1196.1,1013.2 1183.0,1003.1 1199.2,1003.1" fill="#808080" stroke="#000" stroke-width="3.0" stroke-linejoin="round"/>
<polygon points="1233.5,1068.6 1237.5,1081.3 1253.7,1081.3 1240.6,1091.4 1245.2,1105.9 1233.5,1096.9 1221.8,1105.9 1226.4,1091.4 1213.3,1081.3 1229.5,1081.3" fill="#808080" stroke="#000" stroke-width="3.0" stroke-linejoin="round"/>
<polygon points="1261.6,971.5 1265.6,984.2 1281.8,984.2 1268.7,994.3 1273.3,1008.8 1261.6,999.8 1249.9,1008.8 1254.5,994.3 1241.4,984.2 1257.6,984.2" fill="#808080" stroke="#000" stroke-width="3.0" stroke-linejoin="round"/>
<polygon points="1358.2,1052.5 1362.2,1065.2 1378.4,1065.2 1365.3,1075.3 1369.9,1089.8 1358.2,1080.8 1346.5,1089.8 1351.1,1075.3 1338.0,1065.2 1354.2,1065.2" fill="#808080" stroke="#000" stroke-width="3.0" stroke-linejoin="round"/>
<polygon points="1385.4,1065.5 1389.4,1078.2 1405.5,1078.2 1392.5,1088.3 1397.1,1102.8 1385.4,1093.8 1373.7,1102.8 1378.3,1088.3 1365.2,1078.2 1381.4,1078.2" fill="#808080" stroke="#000" stroke-width="3.0" stroke-linejoin="round"/>
<polygon points="1411.0,1078.0 1415.0,1090.7 1431.2,1090.7 1418.1,1100.8 1422.7,1115.3 1411.0,1106.3 1399.3,1115.3 1403.9,1100.8 1390.8,1090.7 1407.0,1090.7" fill="#808080" stroke="#000" stroke-width="3.0" stroke-linejoin="round"/>
<polygon points="1529.4,1066.0 1533.4,1078.7 1549.5,1078.7 1536.5,1088.8 1541.1,1103.3 1529.4,1094.3 1517.7,1103.3 1522.3,1088.8 1509.2,1078.7 1525.4,1078.7" fill="#808080" stroke="#000" stroke-width="3.0" stroke-linejoin="round"/>
<polygon points="186.4,1321.7 190.4,1334.4 206.6,1334.4 193.5,1344.5 198.1,1359.0 186.4,1350.0 174.7,1359.0 179.3,1344.5 166.2,1334.4 182.4,1334.4" fill="#808080" stroke="#000" stroke-width="3.0" stroke-linejoin="round"/>
<polygon points="265.1,1554.3 269.1,1567.0 285.2,1567.0 272.2,1577.1 276.8,1591.6 265.1,1582.6 253.4,1591.6 258.0,1577.1 245.0,1567.0 261.1,1567.0" fill="#808080" stroke="#000" stroke-width="3.0" stroke-linejoin="round"/>
<polygon points="333.7,1560.2 337.7,1572.9 353.8,1572.9 340.8,1583.0 345.4,1597.5 333.7,1588.5 322.0,1597.5 326.6,1583.0 313.6,1572.9 329.7,1572.9" fill="#808080" stroke="#000" stroke-width="3.0" stroke-linejoin="round"/>
<polygon points="451.7,1538.4 455.7,1551.1 471.8,1551.1 458.8,1561.2 463.4,1575.7 451.7,1566.7 440.0,1575.7 444.6,1561.2 431.6,1551.1 447.7,1551.1" fill="#808080" stroke="#000" stroke-width="3.0" stroke-linejoin="round"/>
<polygon points="504.7,1467.8 508.7,1480.5 524.9,1480.5 511.8,1490.6 516.4,1505.1 504.7,1496.1 493.0,1505.1 497.6,1490.6 484.6,1480.5 500.7,1480.5" fill="#808080" stroke="#000" stroke-width="3.0" stroke-linejoin="round"/>
<polygon points="604.1,1252.7 608.1,1265.4 624.2,1265.4 611.2,1275.5 615.8,1290.0 604.1,1281.0 592.4,1290.0 597.0,1275.5 583.9,1265.4 600.1,1265.4" fill="#808080" stroke="#000" stroke-width="3.0" stroke-linejoin="round"/>
<polygon points="696.5,1475.8 700.5,1488.5 716.6,1488.5 703.6,1498.6 708.2,1513.1 696.5,1504.1 684.8,1513.1 689.4,1498.6 676.4,1488.5 692.5,1488.5" fill="#808080" stroke="#000" stroke-width="3.0" stroke-linejoin="round"/>
<polygon points="737.5,1528.6 741.5,1541.3 757.6,1541.3 744.6,1551.4 749.2,1565.9 737.5,1556.9 725.8,1565.9 730.4,1551.4 717.4,1541.3 733.5,1541.3" fill="#808080" stroke="#000" stroke-width="3.0" stroke-linejoin="round"/>
<polygon points="818.0,1507.8 822.0,1520.5 838.1,1520.5 825.1,1530.6 829.7,1545.1 818.0,1536.1 806.3,1545.1 810.9,1530.6 797.9,1520.5 814.0,1520.5" fill="#808080" stroke="#000" stroke-width="3.0" stroke-linejoin="round"/>
<polygon points="963.5,1514.4 967.5,1527.1 983.6,1527.1 970.6,1537.2 975.2,1551.7 963.5,1542.7 951.8,1551.7 956.4,1537.2 943.4,1527.1 959.5,1527.1" fill="#808080" stroke="#000" stroke-width="3.0" stroke-linejoin="round"/>
<polygon points="1165.3,1528.2 1169.3,1540.9 1185.5,1540.9 1172.4,1551.0 1177.0,1565.5 1165.3,1556.5 1153.6,1565.5 1158.2,1551.0 1145.1,1540.9 1161.3,1540.9" fill="#808080" stroke="#000" stroke-width="3.0" stroke-linejoin="round"/>
<polygon points="1200.1,1514.4 1204.1,1527.1 1220.2,1527.1 1207.2,1537.2 1211.8,1551.7 1200.1,1542.7 1188.4,1551.7 1193.0,1537.2 1179.9,1527.1 1196.1,1527.1" fill="#808080" stroke="#000" stroke-width="3.0" stroke-linejoin="round"/>
<polygon points="1233.5,1550.7 1237.5,1563.4 1253.7,1563.4 1240.6,1573.5 1245.2,1588.0 1233.5,1579.0 1221.8,1588.0 1226.4,1573.5 1213.3,1563.4 1229.5,1563.4" fill="#808080" stroke="#000" stroke-width="3.0" stroke-linejoin="round"/>
<polygon points="1267.7,1347.5 1271.7,1360.2 1287.9,1360.2 1274.8,1370.3 1279.4,1384.8 1267.7,1375.8 1256.0,1384.8 1260.6,1370.3 1247.5,1360.2 1263.7,1360.2" fill="#808080" stroke="#000" stroke-width="3.0" stroke-linejoin="round"/>
<rect x="370.8" y="592.8" width="30.7" height="30.7" fill="none" stroke="#ff0000" stroke-width="2.9" stroke-linejoin="round"/>
<rect x="640.6" y="555.9" width="30.7" height="30.7" fill="none" stroke="#ff0000" stroke-width="2.9" stroke-linejoin="round"/>
<rect x="377.0" y="1010.7" width="30.7" height="30.7" fill="none" stroke="#ff0000" stroke-width="2.9" stroke-linejoin="round"/>
<rect x="640.8" y="978.6" width="30.7" height="30.7" fill="none" stroke="#ff0000" stroke-width="2.9" stroke-linejoin="round"/>
<rect x="703.2" y="1027.1" width="30.7" height="30.7" fill="none" stroke="#ff0000" stroke-width="2.9" stroke-linejoin="round"/>
<rect x="861.1" y="1004.4" width="30.7" height="30.7" fill="none" stroke="#ff0000" stroke-width="2.9" stroke-linejoin="round"/>
<rect x="1115.9" y="1030.0" width="30.7" height="30.7" fill="none" stroke="#ff0000" stroke-width="2.9" stroke-linejoin="round"/>
<rect x="1280.5" y="973.9" width="30.7" height="30.7" fill="none" stroke="#ff0000" stroke-width="2.9" stroke-linejoin="round"/>
<rect x="1491.6" y="1060.2" width="30.7" height="30.7" fill="none" stroke="#ff0000" stroke-width="2.9" stroke-linejoin="round"/>
<rect x="1550.2" y="1057.2" width="30.7" height="30.7" fill="none" stroke="#ff0000" stroke-width="2.9" stroke-linejoin="round"/>
<rect x="380.3" y="1455.8" width="30.7" height="30.7" fill="none" stroke="#ff0000" stroke-width="2.9" stroke-linejoin="round"/>
<rect x="640.9" y="1359.9" width="30.7" height="30.7" fill="none" stroke="#ff0000" stroke-width="2.9" stroke-linejoin="round"/>
<rect x="704.8" y="1502.7" width="30.7" height="30.7" fill="none" stroke="#ff0000" stroke-width="2.9" stroke-linejoin="round"/>
<rect x="864.6" y="1422.7" width="30.7" height="30.7" fill="none" stroke="#ff0000" stroke-width="2.9" stroke-linejoin="round"/>
<rect x="1112.5" y="1499.4" width="30.7" height="30.7" fill="none" stroke="#ff0000" stroke-width="2.9" stroke-linejoin="round"/>
<rect x="1286.5" y="1348.7" width="30.7" height="30.7" fill="none" stroke="#ff0000" stroke-width="2.9" stroke-linejoin="round"/>
<rect x="1497.9" y="1529.8" width="30.7" height="30.7" fill="none" stroke="#ff0000" stroke-width="2.9" stroke-linejoin="round"/>
<rect x="1550.5" y="1515.7" width="30.7" height="30.7" fill="none" stroke="#ff0000" stroke-width="2.9" stroke-linejoin="round"/>
<rect x="196.5" y="574.9" width="30.7" height="30.7" fill="#00ff00" stroke="#008000" stroke-width="2.9" stroke-linejoin="round"/>
<rect x="279.6" y="574.9" width="30.7" height="30.7" fill="#00ff00" stroke="#008000" stroke-width="2.9" stroke-linejoin="round"/>
<rect x="335.3" y="587.8" width="30.7" height="30.7" fill="#00ff00" stroke="#008000" stroke-width="2.9" stroke-linejoin="round"/>
<rect x="496.8" y="225.8" width="30.7" height="30.7" fill="#00ff00" stroke="#008000" stroke-width="2.9" stroke-linejoin="round"/>
<rect x="528.9" y="565.1" width="30.7" height="30.7" fill="#00ff00" stroke="#008000" stroke-width="2.9" stroke-linejoin="round"/>
<rect x="650.1" y="518.6" width="30.7" height="30.7" fill="#00ff00" stroke="#008000" stroke-width="2.9" stroke-linejoin="round"/>
<rect x="703.4" y="552.4" width="30.7" height="30.7" fill="#00ff00" stroke="#008000" stroke-width="2.9" stroke-linejoin="round"/>
<rect x="730.2" y="602.4" width="30.7" height="30.7" fill="#00ff00" stroke="#008000" stroke-width="2.9" stroke-linejoin="round"/>
<rect x="798.9" y="595.6" width="30.7" height="30.7" fill="#00ff00" stroke="#008000" stroke-width="2.9" stroke-linejoin="round"/>
<rect x="842.2" y="608.8" width="30.7" height="30.7" fill="#00ff00" stroke="#008000" stroke-width="2.9" stroke-linejoin="round"/>
<rect x="904.5" y="584.6" width="30.7" height="30.7" fill="#00ff00" stroke="#008000" stroke-width="2.9" stroke-linejoin="round"/>
<rect x="973.4" y="584.6" width="30.7" height="30.7" fill="#00ff00" stroke="#008000" stroke-width="2.9" stroke-linejoin="round"/>
<rect x="1037.2" y="618.2" width="30.7" height="30.7" fill="#00ff00" stroke="#008000" stroke-width="2.9" stroke-linejoin="round"/>
<rect x="1422.7" y="608.8" width="30.7" height="30.7" fill="#00ff00" stroke="#008000" stroke-width="2.9" stroke-linejoin="round"/>
<rect x="193.3" y="1026.8" width="30.7" height="30.7" fill="#00ff00" stroke="#008000" stroke-width="2.9" stroke-linejoin="round"/>
<rect x="271.5" y="1035.0" width="30.7" height="30.7" fill="#00ff00" stroke="#008000" stroke-width="2.9" stroke-linejoin="round"/>
<rect x="327.2" y="1053.8" width="30.7" height="30.7" fill="#00ff00" stroke="#008000" stroke-width="2.9" stroke-linejoin="round"/>
<rect x="490.4" y="720.8" width="30.7" height="30.7" fill="#00ff00" stroke="#008000" stroke-width="2.9" stroke-linejoin="round"/>
<rect x="532.4" y="1027.1" width="30.7" height="30.7" fill="#00ff00" stroke="#008000" stroke-width="2.9" stroke-linejoin="round"/>
<rect x="652.1" y="994.9" width="30.7" height="30.7" fill="#00ff00" stroke="#008000" stroke-width="2.9" stroke-linejoin="round"/>
<rect x="723.8" y="1063.5" width="30.7" height="30.7" fill="#00ff00" stroke="#008000" stroke-width="2.9" stroke-linejoin="round"/>
<rect x="904.6" y="1060.6" width="30.7" height="30.7" fill="#00ff00" stroke="#008000" stroke-width="2.9" stroke-linejoin="round"/>
<rect x="970.4" y="1047.5" width="30.7" height="30.7" fill="#00ff00" stroke="#008000" stroke-width="2.9" stroke-linejoin="round"/>
<rect x="496.8" y="1515.7" width="30.7" height="30.7" fill="#00ff00" stroke="#008000" stroke-width="2.9" stroke-linejoin="round"/>
<rect x="559.4" y="1551.8" width="30.7" height="30.7" fill="#00ff00" stroke="#008000" stroke-width="2.9" stroke-linejoin="round"/>
<rect x="624.6" y="1558.4" width="30.7" height="30.7" fill="#00ff00" stroke="#008000" stroke-width="2.9" stroke-linejoin="round"/>
<rect x="984.8" y="1545.7" width="30.7" height="30.7" fill="#00ff00" stroke="#008000" stroke-width="2.9" stroke-linejoin="round"/>
</g>
<rect x="91.9" y="139.1" width="57.8" height="53" fill="#00ff00"/>
<polygon points="640.3,124.3 647.2,143.5 669.6,143.5 651.5,155.5 658.6,175.1 640.3,163.0 622.0,175.1 629.1,155.5 611.0,143.5 633.4,143.5" fill="#a6a6a6" stroke="#000" stroke-width="2.0" stroke-linejoin="miter"/>
<rect x="1229.9" y="123.5" width="56.6" height="50.9" fill="none" stroke="#ff0000" stroke-width="1.8"/>
<g class="sans" font-weight="bold" font-size="77.4">
<text transform="translate(206.3,183.8) scale(0.851,1)">CaAl<tspan font-size="51.5" dy="16.9">2</tspan><tspan dy="-16.9">O</tspan><tspan font-size="51.5" dy="16.9">4</tspan></text>
<text transform="translate(703.8,183.8) scale(0.851,1)">Ca<tspan font-size="51.5" dy="16.9">12</tspan><tspan dy="-16.9">Al</tspan><tspan font-size="51.5" dy="16.9">14</tspan><tspan dy="-16.9">O</tspan><tspan font-size="51.5" dy="16.9">33</tspan></text>
<text transform="translate(1330.3,187) scale(0.851,1)">Al<tspan font-size="51.5" dy="16.9">2</tspan><tspan dy="-16.9">O</tspan><tspan font-size="51.5" dy="16.9">3</tspan></text>
</g>
<g class="serif" font-weight="bold" font-size="71">
<text transform="translate(1346.8,406.2) scale(1.036,1)" x="0.0 32.8 67.1 100.1" y="0">1400<tspan font-size="77" dy="5" x="136.0">º</tspan><tspan dy="-5" x="163.1">C</tspan></text>
<text transform="translate(1355.7,917.3) scale(1.036,1)" x="0.0 34.6 68.1 100.1" y="0">1200<tspan font-size="77" dy="5" x="136.7">º</tspan><tspan dy="-5" x="164.2">C</tspan></text>
<text transform="translate(1346.8,1370.5) scale(1.036,1)" x="0.0 34.0 67.1 99.8" y="0">1000<tspan font-size="77" dy="5" x="136.0">º</tspan><tspan dy="-5" x="163.1">C</tspan></text>
</g>
<g class="sans" font-size="89.4" text-anchor="middle">
<text transform="translate(103.4,1719) scale(0.972,1)">15</text>
<text transform="translate(238.4,1719) scale(0.972,1)">20</text>
<text transform="translate(376.1,1719) scale(0.972,1)">25</text>
<text transform="translate(513.6,1719) scale(0.972,1)">30</text>
<text transform="translate(651.6,1719) scale(0.972,1)">35</text>
<text transform="translate(787.6,1719) scale(0.972,1)">40</text>
<text transform="translate(923.5,1719) scale(0.972,1)">45</text>
<text transform="translate(1062.1,1719) scale(0.972,1)">50</text>
<text transform="translate(1200.6,1719) scale(0.972,1)">55</text>
<text transform="translate(1336.9,1719) scale(0.972,1)">60</text>
<text transform="translate(1474.3,1719) scale(0.972,1)">65</text>
<text transform="translate(1612.3,1719) scale(0.972,1)">70</text>
</g>
<text class="serif" font-size="82" transform="translate(745.6,1806.3) scale(1.05,1)" x="0.0 38.7 78.5 94.1" y="0">2θ (<tspan font-size="77" dy="-10.8" x="121.3">°</tspan><tspan dy="10.8" x="150.5">)</tspan></text>
<text class="sans" font-size="82" text-anchor="middle" transform="translate(90.4,865) rotate(-90) scale(0.99,1)">Intensity (arb. units)</text>
</svg>
</body></html>
